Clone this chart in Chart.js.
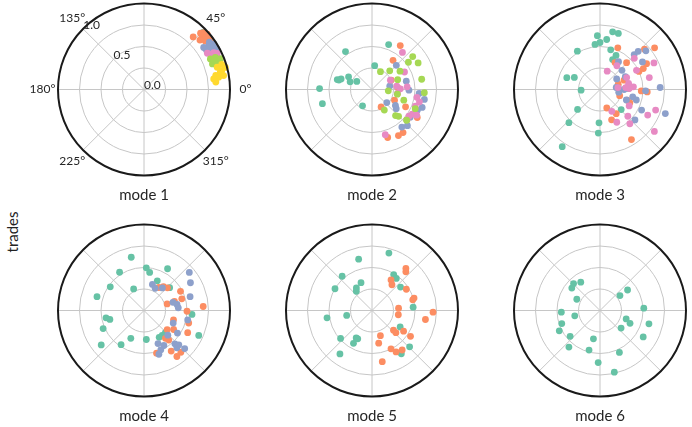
<!DOCTYPE html>
<html>
<head>
    <meta charset='utf-8'>
    <title>modes</title>
    <script src="https://cdn.jsdelivr.net/npm/chart.js"></script>
    <style>
        body { margin: 0; background: #fff; }
        .page { position: relative; width: 692px; height: 427px; overflow: hidden; }
        .page canvas { position: absolute; }
        .ylabel {
            position: absolute; left: 12px; top: 232px;
            transform: translate(-50%, -50%) rotate(-90deg);
            font: 15px Lato, sans-serif; color: #222; white-space: nowrap;
        }
    </style>
</head>
<body>
<div class="page" id="page">
    <div class="ylabel">trades</div>
</div>
<script>

    // colours of the series, one per trade group
    const seriesColors = ['#66c2a5', '#fc8d62', '#8da0cb', '#e78ac3', '#a6d854', '#ffd92f'];
    const modeTitles = ['mode 1', 'mode 2', 'mode 3', 'mode 4', 'mode 5', 'mode 6'];

    const angleTicks = [0, 45, 90, 135, 180, 225, 270, 315];
    const angleLabels = ['0°', '45°', '', '135°', '180°', '225°', '', '315°'];
    const ringTicks = [0.25, 0.5, 0.75];
    const radialTicks = [0, 0.5, 1.0];
    const radialLabels = ['0.0', '0.5', '1.0'];

    // angles in degrees, radii 0..1, one inner list per series
    const mode1Theta = [
        [42, 44, 40],
        [47.1, 42.9, 41.4, 38.5, 41.6, 37.3, 43.8, 45, 40],
        [34.2, 33.2, 32.4, 29.8, 29.3, 35.3, 36, 31],
        [29.9, 27.6, 26.4, 28],
        [24.8, 20.6, 24.3, 20.1, 22.5, 22],
        [17, 13.7, 11.1, 9.4, 10, 12.8, 8.7, 15.3, 18, 6]
    ];
    const mode1R = [
        [0.93, 0.96, 0.95],
        [0.84, 0.92, 0.98, 0.91, 0.87, 0.97, 0.96, 0.93, 0.94],
        [0.91, 0.97, 0.86, 0.91, 0.97, 0.85, 0.94, 0.94],
        [0.85, 0.89, 0.95, 0.92],
        [0.85, 0.85, 0.91, 0.93, 0.88, 0.96],
        [0.89, 0.93, 0.85, 0.88, 0.94, 0.91, 0.82, 0.98, 0.95, 0.84]
    ];

    const mode2Theta = [
        [69.8, 124.8, 83.6, 164, 164, 161, 151.5, 160.5, 152, 179, 196, 240],
        [57.4, 54.4, 26.2, 4.4, 297.4, 332.5, 318.8, 305.6, 299.7, 288, 328.1, 334.5],
        [45, 13.6, 359, 10.9, 318.4, 325.6, 321.5, 355.2, 349.2, 340.2, 323.9, 308.3, 314.2, 335.3],
        [50.8, 28.4, 27, 7.8, 1.3, 4.4, 350, 345.4, 328.3, 330, 286.3, 351, 339, 324],
        [39.1, 37, 30.1, 64.7, 46.6, 33.4, 21, 11.7, 349.4, 341.4, 355.4, 356.4, 336, 300.8, 311.9, 314.6, 318.2]
    ];
    const mode2R = [
        [0.56, 0.54, 0.28, 0.42, 0.40, 0.38, 0.31, 0.27, 0.20, 0.61, 0.60, 0.22],
        [0.61, 0.42, 0.25, 0.30, 0.23, 0.44, 0.54, 0.62, 0.62, 0.59, 0.62, 0.29],
        [0.40, 0.41, 0.43, 0.21, 0.23, 0.33, 0.36, 0.55, 0.62, 0.62, 0.55, 0.56, 0.59, 0.58],
        [0.56, 0.43, 0.24, 0.29, 0.33, 0.41, 0.53, 0.57, 0.55, 0.60, 0.55, 0.30, 0.54, 0.53],
        [0.61, 0.53, 0.62, 0.23, 0.30, 0.39, 0.32, 0.59, 0.30, 0.39, 0.19, 0.61, 0.55, 0.28, 0.41, 0.44, 0.54]
    ];

    const mode3Theta = [
        [77.7, 72, 92.8, 82.4, 90, 96.3, 120.4, 75, 65, 67.3, 160.2, 154.7, 182, 221.8, 227, 268.3, 267.8, 236.7, 316.4, 2],
        [67, 45.4, 61, 42.3, 37.5, 25.9, 25, 21.3, 16.2, 4, 358, 357, 338.7, 336, 290, 303.7, 290.8, 302, 342.4, 29.1],
        [45.8, 45.2, 40.3, 56.5, 33.2, 41.3, 32.6, 26.9, 351.7, 347.3, 343.8, 358.3, 1.9, 333.6, 339.7, 318.8, 338.2, 0, 7],
        [42.4, 26.4, 27.8, 68.6, 54.8, 24.2, 13.7, 12, 4.6, 6, 2, 330.4, 298.3, 316, 297, 310.9, 331.7, 339.6, 322.2, 4.4]
    ];
    const mode3R = [
        [0.69, 0.69, 0.63, 0.59, 0.55, 0.53, 0.52, 0.48, 0.44, 0.38, 0.41, 0.33, 0.22, 0.35, 0.53, 0.39, 0.51, 0.80, 0.34, 0.33],
        [0.53, 0.44, 0.36, 0.70, 0.80, 0.56, 0.50, 0.30, 0.22, 0.32, 0.48, 0.55, 0.34, 0.38, 0.23, 0.34, 0.38, 0.69, 0.24, 0.62],
        [0.57, 0.63, 0.70, 0.39, 0.59, 0.34, 0.23, 0.33, 0.22, 0.39, 0.44, 0.53, 0.70, 0.54, 0.81, 0.54, 0.33, 0.28, 0.19],
        [0.54, 0.70, 0.48, 0.23, 0.34, 0.34, 0.59, 0.34, 0.39, 0.21, 0.34, 0.39, 0.29, 0.45, 0.43, 0.53, 0.63, 0.69, 0.80, 0.30]
    ];

    const mode4Theta = [
        [103.4, 122.4, 86.9, 81.6, 60.7, 66, 144.8, 115.5, 163.5, 41.8, 191, 194.7, 204, 219, 236.3, 244.8, 274.6, 355.3, 335.4, 299.4, 306, 313.7],
        [57.3, 44.2, 27.8, 17.2, 16.9, 16, 3.9, 359, 342.4, 344.3, 327.2, 333, 320.4, 307.4, 309.8, 303.7, 305.4, 311.3, 286.3, 51.1],
        [40.2, 31, 16.8, 72.2, 63.4, 51, 15.9, 10.4, 4.5, 347.8, 336.6, 325.8, 313.8, 292.8, 299.5, 312.6, 311.2, 316.7, 293, 288.7, 315.3]
    ];
    const mode4R = [
        [0.64, 0.53, 0.50, 0.45, 0.56, 0.38, 0.48, 0.28, 0.57, 0.40, 0.45, 0.41, 0.52, 0.64, 0.48, 0.36, 0.34, 0.56, 0.70, 0.36, 0.36, 0.36],
        [0.32, 0.38, 0.48, 0.46, 0.37, 0.28, 0.69, 0.50, 0.36, 0.54, 0.41, 0.57, 0.35, 0.41, 0.45, 0.57, 0.66, 0.65, 0.52, 0.36],
        [0.69, 0.63, 0.56, 0.32, 0.29, 0.34, 0.35, 0.39, 0.40, 0.52, 0.37, 0.47, 0.40, 0.42, 0.47, 0.53, 0.58, 0.65, 0.50, 0.54, 0.57]
    ];

    const mode5Theta = [
        [73.7, 104.5, 59, 53, 130.9, 111.4, 149.4, 124.6, 129, 39.5, 191, 189.3, 4.6, 329.5, 221.8, 240.2, 240.7, 243.4, 233.7, 315.8, 304],
        [51.3, 49, 58.2, 52.4, 31.9, 16.5, 14.8, 5, 350.8, 358.4, 350.4, 317.3, 317, 326.6, 326, 288.4, 281.5, 296.2, 300, 307.2, 281.3]
    ];
    const mode5R = [
        [0.70, 0.62, 0.49, 0.47, 0.53, 0.35, 0.50, 0.32, 0.29, 0.43, 0.30, 0.53, 0.48, 0.38, 0.49, 0.37, 0.44, 0.37, 0.63, 0.61, 0.61],
        [0.63, 0.60, 0.42, 0.38, 0.47, 0.51, 0.49, 0.31, 0.31, 0.71, 0.63, 0.34, 0.38, 0.44, 0.54, 0.31, 0.39, 0.50, 0.56, 0.58, 0.61]
    ];

    const mode6Theta = [
        [134.3, 124, 141.3, 154, 182.5, 192, 199, 206.7, 221, 229.8, 257, 254.6, 268, 283, 294.7, 320, 342, 336.8, 328.4, 344.7, 3, 36.9, 36.8]
    ];
    const mode6R = [
        [0.44, 0.40, 0.42, 0.30, 0.45, 0.30, 0.47, 0.53, 0.46, 0.56, 0.34, 0.48, 0.61, 0.74, 0.54, 0.32, 0.32, 0.38, 0.59, 0.59, 0.51, 0.29, 0.40]
    ];

    const modes = [
        { theta: mode1Theta, r: mode1R },
        { theta: mode2Theta, r: mode2R },
        { theta: mode3Theta, r: mode3R },
        { theta: mode4Theta, r: mode4R },
        { theta: mode5Theta, r: mode5R },
        { theta: mode6Theta, r: mode6R }
    ];

    const FONT = 'Lato, "Open Sans", sans-serif';
    const toRad = d => d * Math.PI / 180;

    // polar grid, spine and labels drawn on top of a plain x/y scatter
    const polarGrid = {
        id: 'polarGrid',
        beforeDatasetsDraw(chart) {
            const { ctx, scales: { x, y } } = chart;
            const cx = x.getPixelForValue(0), cy = y.getPixelForValue(0);
            ctx.save();
            ctx.strokeStyle = '#c6c6c6';
            ctx.lineWidth = 1;
            ringTicks.forEach(r => {
                ctx.beginPath();
                ctx.arc(cx, cy, x.getPixelForValue(r) - cx, 0, 2 * Math.PI);
                ctx.stroke();
            });
            angleTicks.forEach(t => {
                ctx.beginPath();
                ctx.moveTo(cx, cy);
                ctx.lineTo(x.getPixelForValue(Math.cos(toRad(t))), y.getPixelForValue(Math.sin(toRad(t))));
                ctx.stroke();
            });
            ctx.restore();
        },
        afterDatasetsDraw(chart, args, opts) {
            const { ctx, scales: { x, y } } = chart;
            const cx = x.getPixelForValue(0), cy = y.getPixelForValue(0);
            ctx.save();
            ctx.strokeStyle = '#1a1a1a';
            ctx.lineWidth = 2;
            ctx.beginPath();
            ctx.arc(cx, cy, x.getPixelForValue(1) - cx, 0, 2 * Math.PI);
            ctx.stroke();
            if (opts.labels) {
                ctx.fillStyle = '#262626';
                ctx.font = '12px ' + FONT;
                ctx.textAlign = 'center';
                ctx.textBaseline = 'middle';
                angleTicks.forEach((t, i) => {
                    ctx.fillText(angleLabels[i],
                        x.getPixelForValue(1.18 * Math.cos(toRad(t))),
                        y.getPixelForValue(1.18 * Math.sin(toRad(t))));
                });
                ctx.textAlign = 'left';
                ctx.textBaseline = 'bottom';
                radialTicks.forEach((r, i) => {
                    ctx.fillText(radialLabels[i],
                        x.getPixelForValue(r * Math.cos(toRad(135))),
                        y.getPixelForValue(r * Math.sin(toRad(135))) + 2);
                });
            }
            ctx.restore();
        }
    };

    const cellLeft = [29, 257, 485];
    const cellTop = [0, 221];
    const page = document.getElementById('page');

    modes.forEach((m, k) => {
        const canvas = document.createElement('canvas');
        canvas.width = 230;
        canvas.height = 206;
        canvas.style.left = cellLeft[k % 3] + 'px';
        canvas.style.top = cellTop[Math.floor(k / 3)] + 'px';
        page.appendChild(canvas);

        const datasets = m.theta.map((angles, i) => ({
            label: 'series ' + (i + 1),
            data: angles.map((t, j) => ({
                x: m.r[i][j] * Math.cos(toRad(t)),
                y: m.r[i][j] * Math.sin(toRad(t))
            })),
            backgroundColor: seriesColors[i],
            borderWidth: 0,
            pointRadius: 3.4,
            order: -i
        }));

        new Chart(canvas, {
            type: 'scatter',
            data: { datasets: datasets },
            plugins: [polarGrid],
            options: {
                responsive: false,
                animation: false,
                layout: { padding: { left: 29, right: 29, top: 3, bottom: 0 } },
                scales: {
                    x: { type: 'linear', min: -1, max: 1, display: false },
                    y: { type: 'linear', min: -1, max: 1, display: false }
                },
                plugins: {
                    legend: { display: false },
                    tooltip: { enabled: false },
                    polarGrid: { labels: k === 0 },
                    title: {
                        display: true,
                        text: modeTitles[k],
                        position: 'bottom',
                        color: '#262626',
                        font: { family: FONT, size: 15, weight: 'normal' },
                        padding: { top: 11, bottom: 2 }
                    }
                }
            }
        });
    });

</script>
</body>
</html>
